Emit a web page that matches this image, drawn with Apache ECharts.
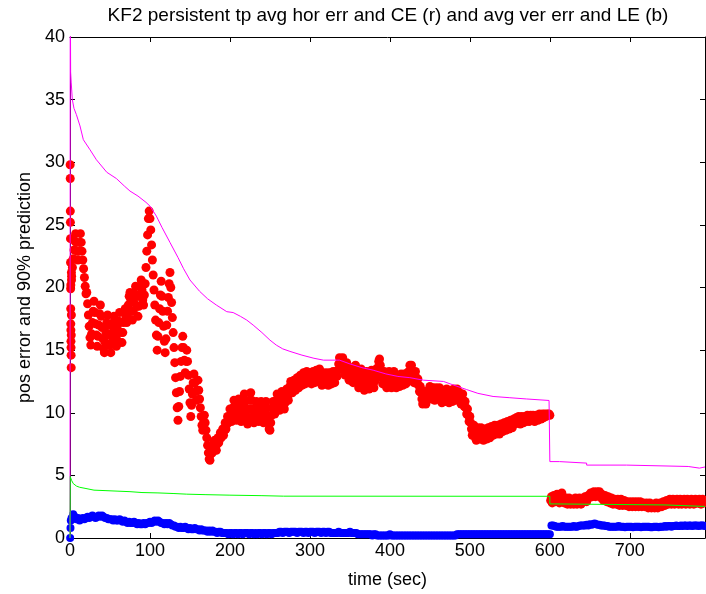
<!DOCTYPE html>
<html>
<head>
<meta charset="utf-8">
<title>KF2 persistent tp</title>
<script src="https://cdn.jsdelivr.net/npm/echarts@6/dist/echarts.min.js"></script>
<style>
  html, body { margin: 0; padding: 0; background: #ffffff; }
  #chart { width: 706px; height: 594px; }
</style>
</head>
<body>
<div id="chart"></div>
<script>
// Sampling intervals (seconds) of the two averaged error series.
const horStep = 1;
const verStep = 2;

// First-second samples of the average horizontal error: [time, value]
const horErrStart = [
  [0.2, 29.8], [0.3, 28.7], [0.4, 26.1], [0.5, 25.2], [0.6, 23.9], [0.7, 22.0],
  [0.8, 19.9], [0.9, 18.3], [1.0, 17.1], [1.1, 16.6], [1.2, 15.7], [1.3, 15.2],
  [1.4, 14.6], [1.5, 13.6], [1.6, 16.2], [1.7, 17.8], [1.8, 21.2], [1.9, 20.6]
];

// Average horizontal error, t = 1, 2, ... 794 s (one row = 20 s)
const horErr = [
  20.2, 20.9, 21.6, 22.3, 23.0, 23.7, 24.3, 23.6, 22.9, 22.2, 22.9, 23.6, 24.3, 23.6, 22.9, 22.2, 21.5, 20.8, 20.1, 19.5,
  19.6, 18.7, 17.8, 16.9, 16.0, 15.4, 16.3, 17.2, 18.1, 18.9, 18.0, 17.1, 16.2, 15.3, 16.1, 17.0, 17.9, 18.6, 17.7, 16.8,
  15.9, 15.1, 14.8, 15.6, 16.4, 17.2, 17.8, 17.0, 16.2, 15.4, 14.8, 15.6, 16.4, 17.2, 17.7, 16.9, 16.1, 15.3, 15.8, 16.6,
  17.3, 18.0, 17.2, 16.4, 15.6, 16.4, 17.2, 18.0, 18.3, 17.6, 17.2, 17.9, 18.6, 19.3, 19.6, 18.9, 18.1, 17.4, 18.1, 18.8,
  19.5, 20.1, 19.3, 18.5, 17.7, 18.5, 19.3, 20.1, 20.6, 19.8, 19.0, 18.6, 19.4, 20.3, 21.6, 22.9, 24.2, 25.5, 26.1, 25.5,
  24.6, 23.4, 22.2, 21.0, 19.8, 18.6, 17.4, 16.2, 15.0, 16.1, 17.2, 18.3, 19.4, 20.5, 19.3, 18.1, 16.9, 15.7, 14.8, 15.9,
  17.0, 18.1, 19.2, 20.3, 21.2, 20.0, 18.8, 17.6, 16.4, 15.2, 14.0, 12.8, 11.6, 10.4, 9.4, 10.5, 11.7, 12.9, 14.1, 15.2,
  16.1, 15.2, 14.2, 13.2, 14.1, 15.0, 14.1, 13.0, 11.9, 10.8, 9.7, 10.6, 11.5, 12.4, 13.1, 12.4, 11.7, 11.0, 11.8, 12.6,
  11.8, 11.1, 10.4, 9.7, 9.0, 8.6, 9.2, 9.8, 9.2, 8.6, 8.0, 7.4, 6.8, 6.3, 6.2, 6.7, 7.2, 6.8, 7.3, 7.7,
  7.8, 7.3, 7.0, 7.5, 8.0, 7.6, 7.9, 8.4, 8.0, 8.3, 8.7, 8.2, 8.6, 9.2, 8.7, 9.1, 9.7, 9.2, 9.7, 10.3,
  9.8, 9.3, 9.8, 10.4, 11.0, 10.5, 9.9, 9.4, 10.0, 10.6, 11.1, 10.5, 9.9, 9.3, 9.8, 10.4, 11.0, 11.5, 10.9, 10.3,
  9.7, 9.1, 9.6, 10.3, 11.0, 11.6, 11.0, 10.3, 9.7, 9.2, 9.8, 10.4, 10.9, 10.4, 9.8, 9.3, 9.8, 10.4, 10.9, 10.4,
  9.8, 9.2, 9.7, 10.3, 10.9, 10.4, 9.8, 9.2, 8.7, 8.6, 9.2, 9.8, 10.4, 10.9, 10.4, 9.9, 10.4, 11.0, 11.5, 11.0,
  10.5, 10.2, 10.7, 11.3, 11.7, 11.2, 10.6, 10.3, 10.8, 11.4, 11.9, 11.5, 11.0, 11.5, 12.1, 12.5, 12.0, 11.6, 12.1, 12.6,
  12.2, 11.8, 12.3, 12.8, 12.4, 12.0, 12.5, 13.0, 12.6, 12.2, 12.7, 13.2, 12.8, 12.3, 12.8, 13.3, 12.9, 12.4, 12.7, 13.2,
  12.8, 12.3, 12.8, 13.3, 12.9, 12.4, 12.9, 13.4, 13.0, 12.5, 13.0, 13.5, 13.1, 12.6, 12.2, 12.7, 13.2, 12.8, 12.3, 12.8,
  13.2, 12.7, 12.2, 12.7, 13.2, 12.8, 12.3, 12.8, 13.3, 12.9, 12.4, 12.9, 13.3, 12.9, 13.4, 13.9, 14.4, 14.0, 13.5, 14.0,
  14.4, 13.9, 13.4, 13.0, 13.5, 14.0, 13.6, 13.1, 12.6, 13.1, 13.6, 13.2, 12.7, 12.4, 12.9, 13.4, 13.8, 13.3, 12.8, 12.4,
  12.0, 12.5, 13.0, 13.5, 13.1, 12.6, 12.1, 11.8, 12.3, 12.8, 13.3, 12.9, 12.4, 11.9, 12.4, 12.9, 13.4, 13.0, 12.5, 12.0,
  12.5, 13.0, 13.5, 13.1, 13.6, 14.1, 14.3, 13.8, 13.3, 12.8, 12.3, 12.8, 13.3, 13.0, 12.5, 12.0, 12.4, 12.9, 13.3, 12.8,
  12.4, 12.0, 12.5, 13.0, 13.3, 12.9, 12.4, 12.0, 12.5, 13.0, 12.6, 12.1, 12.6, 13.1, 12.7, 12.2, 12.6, 13.1, 12.7, 12.3,
  12.7, 13.2, 12.8, 13.3, 13.8, 13.4, 13.8, 13.3, 12.9, 12.4, 12.9, 13.3, 12.8, 12.3, 12.7, 12.2, 11.7, 12.1, 11.6, 11.1,
  10.7, 11.2, 11.7, 11.2, 10.7, 11.2, 11.7, 11.3, 11.8, 12.1, 11.6, 11.1, 11.6, 12.0, 11.5, 11.0, 11.5, 12.0, 11.6, 11.1,
  11.5, 12.0, 11.6, 11.1, 10.8, 11.3, 11.8, 11.4, 10.9, 11.4, 11.9, 11.5, 11.0, 10.8, 11.3, 11.8, 11.4, 10.9, 11.4, 11.9,
  11.5, 11.0, 11.5, 11.9, 11.5, 11.1, 11.6, 11.2, 10.7, 11.1, 11.5, 11.0, 10.5, 10.9, 10.4, 9.9, 10.3, 9.8, 9.3, 9.7,
  9.2, 8.7, 8.2, 8.6, 9.0, 8.5, 8.0, 7.8, 8.3, 8.8, 8.4, 7.9, 8.3, 8.8, 8.4, 7.9, 7.8, 8.3, 8.7, 8.2,
  7.9, 8.4, 8.8, 8.4, 8.0, 8.5, 8.9, 8.5, 8.2, 8.6, 9.0, 8.6, 8.3, 8.7, 9.0, 8.6, 8.3, 8.7, 9.1, 8.7,
  8.5, 8.9, 9.2, 8.8, 8.6, 9.0, 9.3, 8.9, 8.7, 9.1, 9.4, 9.0, 8.8, 9.2, 9.5, 9.1, 9.3, 9.6, 9.2, 9.4,
  9.7, 9.3, 9.1, 9.5, 9.7, 9.3, 9.2, 9.6, 9.7, 9.3, 9.5, 9.8, 9.4, 9.3, 9.6, 9.8, 9.4, 9.5, 9.8, 9.5,
  9.3, 9.6, 9.8, 9.5, 9.4, 9.7, 9.9, 9.6, 9.5, 9.8, 9.9, 9.6, 9.7, 9.9, 9.7, 9.8, 9.9, 9.8, 9.9, 9.8,
  3.0, 3.3, 2.8, 3.2, 3.4, 3.1, 2.9, 3.2, 3.5, 3.3, 3.0, 2.8, 3.1, 3.5, 3.6, 3.3, 3.0, 2.8, 3.0, 3.2,
  2.9, 2.7, 2.9, 3.2, 3.0, 2.7, 2.8, 3.1, 2.9, 2.7, 2.9, 3.2, 3.0, 2.7, 2.8, 3.0, 3.2, 2.9, 2.7, 2.9,
  3.1, 2.9, 3.1, 3.3, 3.1, 2.9, 3.2, 3.4, 3.2, 3.4, 3.6, 3.4, 3.3, 3.6, 3.7, 3.5, 3.3, 3.6, 3.7, 3.5,
  3.6, 3.7, 3.4, 3.2, 3.5, 3.3, 3.0, 3.2, 3.4, 3.1, 2.9, 3.2, 3.3, 3.0, 2.8, 3.0, 3.2, 2.9, 2.7, 2.9,
  3.1, 2.8, 2.7, 3.0, 3.1, 2.8, 2.6, 2.9, 3.1, 2.8, 2.6, 2.8, 3.0, 2.8, 2.6, 2.7, 2.9, 2.7, 2.5, 2.7,
  2.9, 2.7, 2.5, 2.7, 2.9, 2.8, 2.5, 2.6, 2.9, 2.7, 2.5, 2.7, 2.9, 2.7, 2.5, 2.6, 2.8, 2.7, 2.5, 2.7,
  2.8, 2.6, 2.4, 2.6, 2.8, 2.6, 2.4, 2.5, 2.7, 2.5, 2.4, 2.6, 2.8, 2.6, 2.4, 2.5, 2.7, 2.8, 2.6, 2.5,
  2.7, 2.9, 2.7, 2.6, 2.8, 3.0, 2.8, 2.7, 2.9, 3.1, 2.9, 2.7, 2.9, 3.1, 2.9, 2.7, 2.8, 3.0, 3.1, 2.9,
  2.7, 2.9, 3.1, 2.9, 2.7, 2.8, 3.0, 3.1, 2.9, 2.7, 2.9, 3.1, 3.0, 2.8, 2.7, 2.9, 3.1, 3.0, 2.8, 2.7,
  2.9, 3.1, 3.0, 2.8, 2.8, 3.0, 3.1, 2.9, 2.7, 2.9, 3.1, 3.0, 2.8, 3.0
];

// First-second samples of the average vertical error: [time, value]
const verErrStart = [[0.2, 0.0], [0.6, 0.8], [1.0, 1.4]];

// Average vertical error, t = 2, 4, ... 794 s (one row = 20 s)
const verErr = [
  1.6, 1.9, 1.7, 1.5, 1.6, 1.4, 1.5, 1.6, 1.5, 1.6,
  1.7, 1.6, 1.7, 1.8, 1.7, 1.6, 1.7, 1.8, 1.7, 1.8,
  1.7, 1.6, 1.6, 1.5, 1.5, 1.5, 1.4, 1.5, 1.4, 1.4,
  1.5, 1.4, 1.3, 1.4, 1.3, 1.2, 1.3, 1.2, 1.2, 1.3,
  1.2, 1.1, 1.2, 1.1, 1.1, 1.2, 1.1, 1.2, 1.2, 1.3,
  1.2, 1.3, 1.4, 1.3, 1.4, 1.3, 1.2, 1.2, 1.1, 1.2,
  1.1, 1.2, 1.1, 1.0, 1.0, 0.9, 0.9, 0.8, 0.9, 0.8,
  0.8, 0.9, 0.8, 0.7, 0.8, 0.7, 0.7, 0.8, 0.7, 0.7,
  0.6, 0.7, 0.6, 0.6, 0.6, 0.5, 0.6, 0.5, 0.6, 0.5,
  0.5, 0.4, 0.5, 0.5, 0.4, 0.4, 0.4, 0.4, 0.3, 0.4,
  0.4, 0.3, 0.4, 0.4, 0.3, 0.4, 0.4, 0.3, 0.4, 0.4,
  0.4, 0.3, 0.4, 0.4, 0.3, 0.4, 0.3, 0.4, 0.4, 0.3,
  0.4, 0.4, 0.3, 0.4, 0.4, 0.3, 0.4, 0.4, 0.4, 0.4,
  0.5, 0.5, 0.4, 0.5, 0.5, 0.5, 0.4, 0.5, 0.5, 0.5,
  0.5, 0.4, 0.5, 0.5, 0.5, 0.4, 0.5, 0.5, 0.4, 0.5,
  0.5, 0.5, 0.4, 0.5, 0.5, 0.5, 0.4, 0.5, 0.5, 0.4,
  0.5, 0.5, 0.4, 0.4, 0.4, 0.4, 0.4, 0.5, 0.4, 0.4,
  0.4, 0.4, 0.4, 0.4, 0.5, 0.4, 0.4, 0.4, 0.4, 0.3,
  0.3, 0.3, 0.3, 0.3, 0.3, 0.3, 0.3, 0.3, 0.2, 0.3,
  0.3, 0.2, 0.2, 0.2, 0.2, 0.2, 0.2, 0.2, 0.2, 0.3,
  0.2, 0.2, 0.2, 0.2, 0.2, 0.2, 0.2, 0.2, 0.2, 0.2,
  0.2, 0.2, 0.2, 0.2, 0.2, 0.2, 0.2, 0.2, 0.2, 0.2,
  0.2, 0.2, 0.2, 0.2, 0.2, 0.2, 0.2, 0.2, 0.2, 0.2,
  0.2, 0.2, 0.2, 0.2, 0.2, 0.2, 0.2, 0.2, 0.2, 0.2,
  0.2, 0.3, 0.3, 0.3, 0.3, 0.3, 0.3, 0.3, 0.3, 0.3,
  0.3, 0.3, 0.3, 0.3, 0.3, 0.3, 0.3, 0.3, 0.3, 0.3,
  0.3, 0.3, 0.3, 0.3, 0.3, 0.3, 0.3, 0.3, 0.3, 0.3,
  0.3, 0.3, 0.3, 0.3, 0.3, 0.3, 0.3, 0.3, 0.3, 0.3,
  0.3, 0.3, 0.3, 0.3, 0.3, 0.3, 0.3, 0.3, 0.3, 0.3,
  0.3, 0.3, 0.3, 0.3, 0.3, 0.3, 0.3, 0.3, 0.3, 0.3,
  1.0, 1.0, 0.95, 0.9, 0.9, 0.9, 0.9, 0.95, 0.9, 0.9,
  0.9, 0.9, 0.9, 0.9, 0.95, 0.9, 0.9, 0.95, 1.0, 1.0,
  1.0, 1.0, 1.05, 1.0, 1.1, 1.05, 1.1, 1.15, 1.1, 1.05,
  1.05, 1.0, 1.0, 1.0, 0.95, 0.95, 0.9, 0.9, 0.9, 0.9,
  0.9, 0.9, 0.95, 0.9, 0.9, 0.9, 0.85, 0.9, 0.9, 0.9,
  0.9, 0.85, 0.9, 0.9, 0.9, 0.9, 0.85, 0.9, 0.9, 0.9,
  0.9, 0.9, 0.85, 0.85, 0.9, 0.9, 0.9, 0.85, 0.9, 0.9,
  0.9, 0.95, 0.9, 0.95, 0.95, 0.9, 0.95, 0.95, 1.0, 0.95,
  0.95, 1.0, 0.95, 1.0, 1.0, 0.95, 1.0, 1.0, 0.95, 1.0,
  1.0, 1.0, 0.95, 1.0, 1.0, 1.0, 0.95
];

// 90% prediction of the horizontal error (CE): [time, value]
const cePred = [
  [0, 0], [0.3, 45], [0.8, 37.2], [1.5, 36.4], [2.9, 35.0], [5, 34.3], [8, 33.8],
  [12.5, 32.9], [16.7, 31.8], [25, 31.0], [33, 30.2], [46, 29.2], [58, 28.7],
  [68, 28.1], [75, 27.7], [85, 27.3], [95, 26.8], [100, 26.5], [108, 25.7],
  [115, 24.8], [125, 23.6], [135, 22.4], [142, 21.5], [150, 20.6], [162, 19.7],
  [172, 19.1], [183, 18.6], [196, 18.07], [204, 18.0], [213, 17.7], [221, 17.4],
  [229, 17.0], [240, 16.4], [250, 15.8], [258, 15.4], [266, 15.1], [275, 14.9],
  [290, 14.6], [305, 14.35], [317, 14.2], [337, 14.2], [350, 13.9], [365, 13.6],
  [379, 13.4], [395, 13.1], [410, 12.9], [425, 12.8], [442, 12.6], [467, 12.5],
  [480, 12.2], [496, 11.85], [510, 11.55], [529, 11.3], [550, 11.2], [571, 11.1],
  [599, 10.98], [600, 6.1], [612, 6.1], [612, 5.98], [646, 5.98], [646, 5.82],
  [696, 5.82], [696, 5.71], [773, 5.71], [773, 5.58], [787, 5.58], [787, 5.67],
  [794, 5.67]
];

// 90% prediction of the vertical error (LE): [time, value]
const lePred = [
  [0, 0], [0.3, 4.9], [2, 4.6], [4, 4.35], [8, 4.15], [12, 4.05], [20, 3.95],
  [30, 3.82], [45, 3.78], [60, 3.74], [75, 3.7], [90, 3.63], [110, 3.6],
  [130, 3.55], [146, 3.5], [170, 3.46], [200, 3.42], [240, 3.38], [267, 3.34],
  [600, 3.33], [600, 2.72], [606, 2.72], [606, 2.64], [744, 2.64], [744, 2.52],
  [794, 2.52]
];

const xTicks = { min: 0, max: 794, interval: 100 };
const yTicks = { min: 0, max: 40, interval: 5 };

const withTimes = (start, values, step) =>
  start.concat(values.map((v, i) => [step * (i + 1), v]));

const fontFamily = '"Liberation Sans", Arial, sans-serif';
const axisColor = '#000000';

const chart = echarts.init(document.getElementById('chart'), null, { renderer: 'canvas' });

const boxAxis = (extra) => Object.assign({
  type: 'value',
  splitLine: { show: false },
  axisLine: { show: true, onZero: false, lineStyle: { color: axisColor, width: 1 } },
  axisTick: { show: true, inside: true, length: 5, lineStyle: { color: axisColor } },
  axisLabel: { show: false }
}, extra);

chart.setOption({
  animation: false,
  backgroundColor: '#ffffff',
  title: {
    text: 'KF2 persistent tp avg hor err and CE (r) and avg ver err and LE (b)',
    left: 388,
    top: 6,
    padding: 0,
    textAlign: 'center',
    textStyle: { fontFamily, fontSize: 19, fontWeight: 'normal', color: '#000' }
  },
  grid: { left: 70, top: 37, right: 1, bottom: 53, containLabel: false },
  xAxis: [
    boxAxis(Object.assign({}, xTicks, {
      position: 'bottom',
      name: 'time (sec)',
      nameLocation: 'middle',
      nameGap: 33,
      nameTextStyle: { fontFamily, fontSize: 18, color: '#000' },
      axisLabel: { show: true, showMaxLabel: false, margin: 4,
        fontFamily, fontSize: 18, color: '#000' }
    })),
    boxAxis(Object.assign({}, xTicks, { position: 'top' }))
  ],
  yAxis: [
    boxAxis(Object.assign({}, yTicks, {
      position: 'left',
      name: 'pos error and 90% prediction',
      nameLocation: 'middle',
      nameGap: 36,
      nameTextStyle: { fontFamily, fontSize: 18, color: '#000' },
      axisLabel: { show: true, margin: 5, fontFamily, fontSize: 18, color: '#000' }
    })),
    boxAxis(Object.assign({}, yTicks, { position: 'right' }))
  ],
  series: [
    {
      name: 'avg hor err',
      type: 'scatter',
      data: withTimes(horErrStart, horErr, horStep),
      symbol: 'circle',
      symbolSize: 9,
      itemStyle: { color: '#ff0000', opacity: 1 },
      z: 2
    },
    {
      name: 'avg ver err',
      type: 'scatter',
      data: withTimes(verErrStart, verErr, verStep),
      symbol: 'circle',
      symbolSize: 8,
      itemStyle: { color: '#0000ff', opacity: 1 },
      z: 2
    },
    {
      name: 'CE',
      type: 'line',
      data: cePred,
      showSymbol: false,
      lineStyle: { color: '#ff00ff', width: 1 },
      clip: true,
      z: 3
    },
    {
      name: 'LE',
      type: 'line',
      data: lePred,
      showSymbol: false,
      lineStyle: { color: '#00ff00', width: 1 },
      clip: true,
      z: 3
    }
  ]
});
</script>
</body>
</html>
